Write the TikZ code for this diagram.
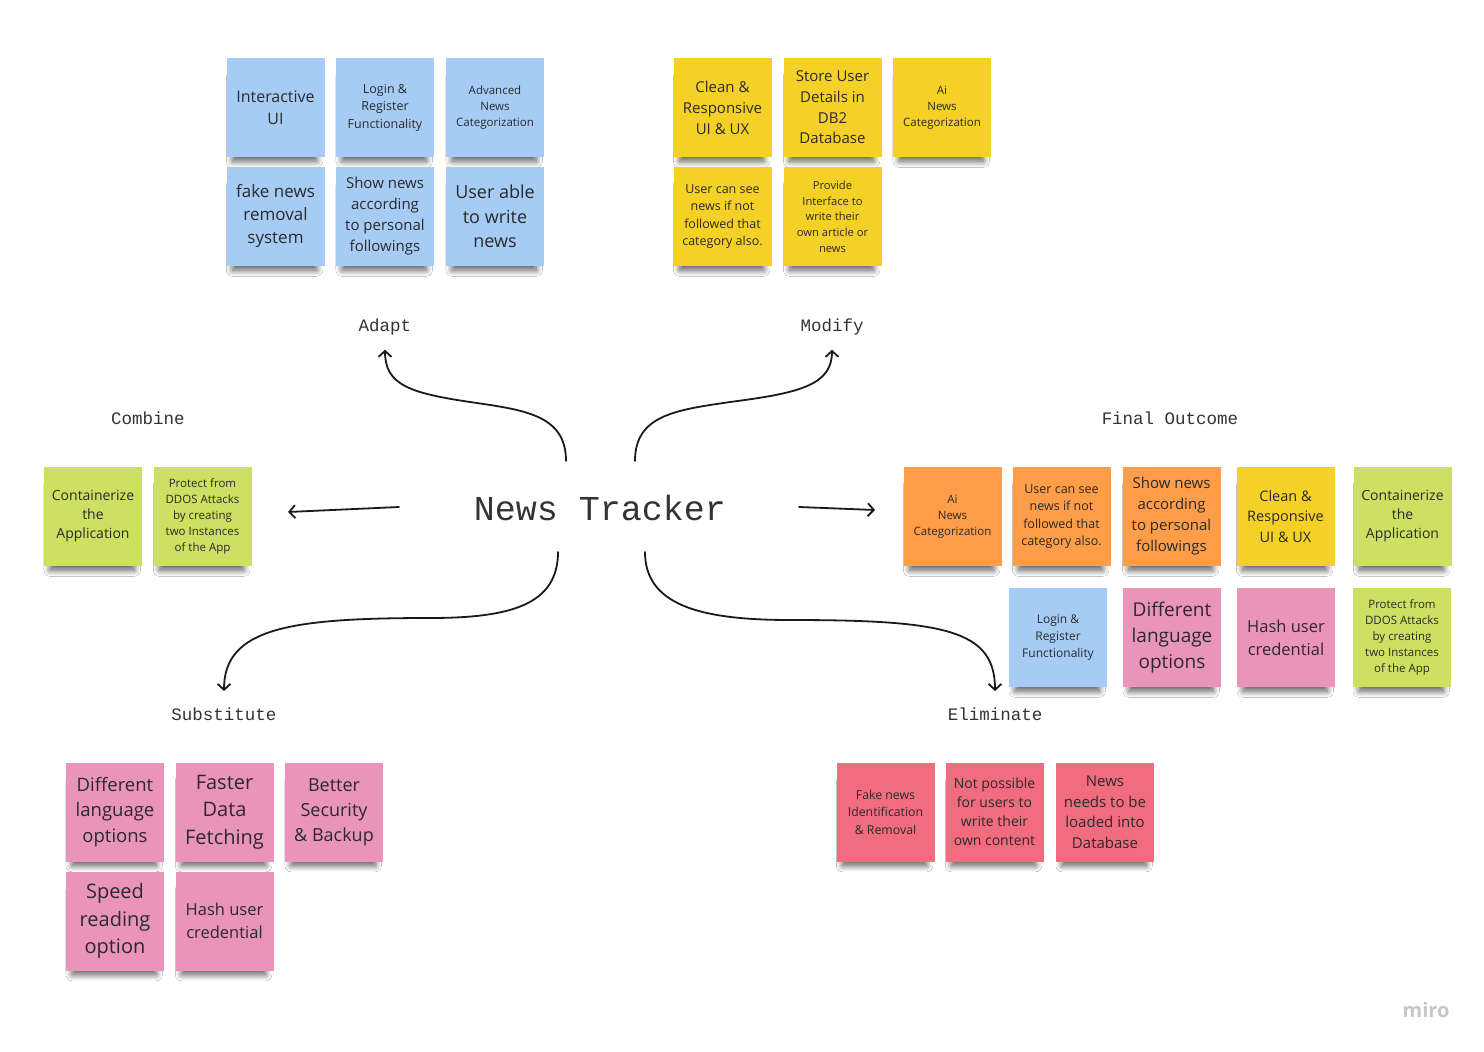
\documentclass[tikz,border=0pt]{standalone}
\usepackage{fontspec}
\setmainfont{Open Sans}
\newfontfamily\monofont{Liberation Mono}
\usetikzlibrary{arrows.meta,shadows.blur}
\definecolor{nblue}{HTML}{A6CCF5}
\definecolor{nyellow}{HTML}{F5D128}
\definecolor{norange}{HTML}{FF9D48}
\definecolor{ngreen}{HTML}{CEE062}
\definecolor{npink}{HTML}{EA94BB}
\definecolor{nred}{HTML}{F16C7F}
\definecolor{ntext}{HTML}{2A2A2A}
\definecolor{lbltext}{HTML}{333333}
\definecolor{linec}{HTML}{1A1A1A}
\tikzset{
  note/.style={minimum width=98pt, minimum height=99pt, inner sep=1pt, align=center,
    text=ntext, fill=#1,
    blur shadow={shadow xshift=-1pt, shadow yshift=-13pt, shadow scale=0.86,
      shadow blur radius=7pt, shadow blur steps=12, shadow opacity=65}},
  fs/.style 2 args={font=\fontsize{#1}{#2}\selectfont},
  lbl/.style={text=lbltext, font=\monofont\fontsize{17.5}{20}\selectfont},
  conn/.style={draw=linec, line width=1.8pt, line cap=round,
    -{Straight Barb[length=6pt,width=13pt,line width=1.8pt]}}
}
\begin{document}
\begin{tikzpicture}[x=1pt,y=-1pt]
\useasboundingbox[fill=white] (0,0) rectangle (1484,1052);

% ---------- Adapt (blue)
\node[note=nblue, fs={16}{22}] (a1) at (275.5,107.5) {Interactive\\UI};
\node[note=nblue, fs={12.5}{17.5}] (a2) at (385,107.5) {Login \&\\Register\\Functionality};
\node[note=nblue, fs={11.5}{16}] (a3) at (495,107.5) {Advanced\\News\\Categorization};
\node[note=nblue, fs={17}{23}] (a4) at (275.5,216.5) {fake news\\removal\\system};
\node[note=nblue, fs={15}{21}] (a5) at (385,216.5) {Show news\\according\\to personal\\followings};
\node[note=nblue, fs={18}{24.5}] (a6) at (495,216.5) {User able\\to write\\news};

% ---------- Modify (yellow)
\node[note=nyellow, fs={15}{21}] (m1) at (722.5,107.5) {Clean \&\\Responsive\\UI \& UX};
\node[note=nyellow, fs={15}{20.7}] (m2) at (832.5,107.5) {Store User\\Details in\\DB2\\Database};
\node[note=nyellow, fs={11.5}{16}] (m3) at (942,107.5) {Ai\\News\\Categorization};
\node[note=nyellow, fs={12.5}{17.3}] (m4) at (722.5,216.5) {User can see\\news if not\\followed that\\category also.};
\node[note=nyellow, fs={11.2}{15.7}] (m5) at (832.5,216.5) {Provide\\Interface to\\write their\\own article or\\news};

% ---------- Combine (green)
\node[note=ngreen, fs={14}{19}] (c1) at (93,516.5) {Containerize\\the\\Application};
\node[note=ngreen, fs={11.5}{16}] (c2) at (202.5,516.5) {Protect from\\DDOS Attacks\\by creating\\two Instances\\of the App};

% ---------- Final Outcome
\node[note=norange, fs={11.5}{16}] (f1) at (952.5,516.5) {Ai\\News\\Categorization};
\node[note=norange, fs={12.5}{17.3}] (f2) at (1061.5,516.5) {User can see\\news if not\\followed that\\category also.};
\node[note=norange, fs={15}{21}] (f3) at (1171.5,516.5) {Show news\\according\\to personal\\followings};
\node[note=nyellow, fs={14.5}{20.5}] (f4) at (1285.5,516.5) {Clean \&\\Responsive\\UI \& UX};
\node[note=ngreen, fs={14}{19}] (f5) at (1402.5,516.5) {Containerize\\the\\Application};
\node[note=nblue, fs={12}{17}] (f6) at (1058,637.5) {Login \&\\Register\\Functionality};
\node[note=npink, fs={19}{26}] (f7) at (1172,637.5) {Different\\language\\options};
\node[note=npink, fs={16.5}{23}] (f8) at (1286,637.5) {Hash user\\credential};
\node[note=ngreen, fs={11.5}{16}] (f9) at (1402,637.5) {Protect from\\DDOS Attacks\\by creating\\two Instances\\of the App};

% ---------- Substitute (pink)
\node[note=npink, fs={18.5}{25.5}] (s1) at (115,812) {Different\\language\\options};
\node[note=npink, fs={20}{27.5}] (s2) at (224.5,812) {Faster\\Data\\Fetching};
\node[note=npink, fs={18}{25}] (s3) at (334,812) {Better\\Security\\\& Backup};
\node[note=npink, fs={20}{27.5}] (s4) at (115,921) {Speed\\reading\\option};
\node[note=npink, fs={16.5}{23}] (s5) at (224.5,921) {Hash user\\credential};

% ---------- Eliminate (red)
\node[note=nred, fs={12.3}{17.5}] (e1) at (885.5,812) {Fake news\\Identification\\\& Removal};
\node[note=nred, fs={14}{19}] (e2) at (994.5,812) {Not possible\\for users to\\write their\\own content};
\node[note=nred, fs={15}{20.5}] (e3) at (1105,812) {News\\needs to be\\loaded into\\Database};

% ---------- labels
\node[text=lbltext, font=\monofont\fontsize{35}{40}\selectfont] (nt) at (600,508) {News Tracker};
\node[lbl] (adapt) at (385,327) {Adapt};
\node[lbl] (modify) at (832,327) {Modify};
\node[lbl] (combine) at (148,418) {Combine};
\node[lbl] (final) at (1170,418) {Final Outcome};
\node[lbl] (subst) at (224,714) {Substitute};
\node[lbl] (elim) at (995,714) {Eliminate};

% ---------- connector ends
\coordinate (ntA) at (566,461);
\coordinate (ntM) at (635,461);
\coordinate (ntC) at (399,507);
\coordinate (ntF) at (799,507);
\coordinate (ntS) at (558,552);
\coordinate (ntE) at (645,552);
\coordinate (tipA) at ([yshift=-11pt]adapt.south);
\coordinate (tipM) at ([yshift=-11pt]modify.south);
\coordinate (tipC) at (288,512);
\coordinate (tipF) at (875,510);
\coordinate (tipS) at ([yshift=13pt]subst.north);
\coordinate (tipE) at ([yshift=13pt]elim.north);

\draw[conn] (ntA) .. controls (566,415) and (525,410) .. (470,402)
  .. controls (410,393) and (385,385) .. (tipA);
\draw[conn] (ntM) .. controls (635,415) and (676,410) .. (730,402)
  .. controls (800,393) and (832,385) .. (tipM);
\draw[conn] (ntC) -- (tipC);
\draw[conn] (ntF) -- (tipF);
\draw[conn] (ntS) .. controls (558,605) and (510,618) .. (430,618)
  .. controls (290,618) and (224,628) .. (tipS);
\draw[conn] (ntE) .. controls (645,605) and (700,620) .. (790,620)
  .. controls (945,620) and (995,630) .. (tipE);

% ---------- watermark
\node[text=black!22, font=\fontsize{20}{20}\selectfont\bfseries] (miro) at (1426,1010) {miro};
\end{tikzpicture}
\end{document}
